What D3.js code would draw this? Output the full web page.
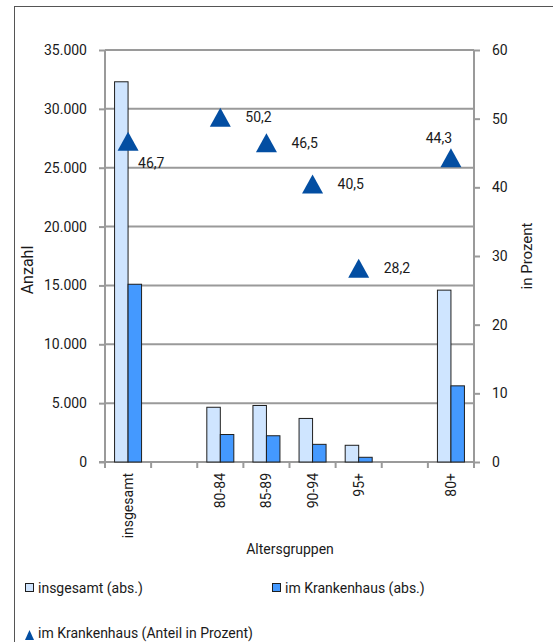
<!DOCTYPE html>
<html>
<head>
<meta charset="utf-8">
<script src="https://cdn.jsdelivr.net/npm/d3@7"></script>
<style>
  html, body { margin: 0; padding: 0; background: #fff; }
  svg { display: block; font-family: Roboto, "Open Sans", sans-serif; }
  text { fill: #1a1a1a; }
</style>
</head>
<body>
<svg id="chart" width="553" height="642"></svg>
<script>
// Age groups (empty slots keep gaps between the group blocks)
const categories = ["insgesamt", "gap1", "80-84", "85-89", "90-94", "95+", "gap2", "80+"];
const categoryLabels = ["insgesamt", "", "80-84", "85-89", "90-94", "95+", "", "80+"];

// Absolute counts
const totalAbs =    [32300, null, 4650, 4800, 3700, 1420, null, 14600];
const hospitalAbs = [15100, null, 2335, 2230, 1500, 400, null, 6470];

// Share in hospital, percent
const hospitalPct = [46.7, null, 50.2, 46.5, 40.5, 28.2, null, 44.3];

const leftTicks = [0, 5000, 10000, 15000, 20000, 25000, 30000, 35000];
const rightTicks = [0, 10, 20, 30, 40, 50, 60];

const svg = d3.select("#chart");
const plot = { left: 105, right: 474, top: 50, bottom: 462 };

const de = d3.formatLocale({ decimal: ",", thousands: ".", grouping: [3], currency: ["", " €"] });
const fmtThousands = de.format(",d");
const fmtPct = de.format(".1f");

const x = d3.scaleBand().domain(categories).range([plot.left, plot.right]).padding(0);
const yLeft = d3.scaleLinear().domain([0, 35000]).range([plot.bottom, plot.top]);
const yRight = d3.scaleLinear().domain([0, 60]).range([plot.bottom, plot.top]);

const gridColor = "#9a9a9a";

// Outer frame (left and top edges)
svg.append("line").attr("x1", 14.5).attr("x2", 14.5).attr("y1", 6).attr("y2", 642)
  .attr("stroke", "#555").attr("stroke-width", 1);
svg.append("line").attr("x1", 14.5).attr("x2", 553).attr("y1", 6.5).attr("y2", 6.5)
  .attr("stroke", "#555").attr("stroke-width", 1);

// Horizontal gridlines
svg.append("g").selectAll("line").data(leftTicks.slice(1)).join("line")
  .attr("x1", plot.left).attr("x2", plot.right)
  .attr("y1", d => yLeft(d)).attr("y2", d => yLeft(d))
  .attr("stroke", gridColor).attr("stroke-width", 2);

// Left axis
const leftAxis = svg.append("g").attr("transform", `translate(${plot.left},0)`)
  .call(d3.axisLeft(yLeft).tickValues(leftTicks).tickFormat(fmtThousands).tickSize(6).tickPadding(12));
// Right axis
const rightAxis = svg.append("g").attr("transform", `translate(${plot.right},0)`)
  .call(d3.axisRight(yRight).tickValues(rightTicks).tickFormat(d3.format("d")).tickSize(6).tickPadding(12));

[leftAxis, rightAxis].forEach(g => {
  g.select(".domain").attr("stroke", gridColor).attr("stroke-width", 2)
    .attr("d", `M0,${plot.top}V${plot.bottom}`);
  g.selectAll(".tick line").attr("stroke", gridColor).attr("stroke-width", 2);
  g.selectAll(".tick text").attr("font-size", 14).attr("font-family", "Roboto, sans-serif").attr("fill", "#1a1a1a");
});

// Bottom axis with ticks at the band boundaries
const boundaries = categories.map(c => x(c)).concat([plot.right]);
svg.append("line").attr("x1", plot.left - 6).attr("x2", plot.right)
  .attr("y1", plot.bottom).attr("y2", plot.bottom)
  .attr("stroke", gridColor).attr("stroke-width", 2);
svg.append("g").selectAll("line").data(boundaries).join("line")
  .attr("x1", d => d).attr("x2", d => d)
  .attr("y1", plot.bottom).attr("y2", plot.bottom + 6)
  .attr("stroke", gridColor).attr("stroke-width", 2);

svg.append("g").selectAll("text").data(categories).join("text")
  .attr("transform", d => `translate(${x(d) + x.bandwidth() / 2 + 5},${plot.bottom + 11}) rotate(-90)`)
  .attr("text-anchor", "end")
  .attr("font-size", 14)
  .text((d, i) => categoryLabels[i]);

// Bars
const barW = 13.5;
const barData = categories.map((c, i) => ({ c, total: totalAbs[i], hosp: hospitalAbs[i] }))
  .filter(d => d.total != null);

const bars = svg.append("g");
bars.selectAll("rect.total").data(barData).join("rect")
  .attr("class", "total")
  .attr("x", d => x(d.c) + x.bandwidth() / 2 - barW)
  .attr("width", barW)
  .attr("y", d => yLeft(d.total))
  .attr("height", d => yLeft(0) - yLeft(d.total))
  .attr("fill", "#cfe5ff").attr("stroke", "#1f1f1f").attr("stroke-width", 1);
bars.selectAll("rect.hosp").data(barData).join("rect")
  .attr("class", "hosp")
  .attr("x", d => x(d.c) + x.bandwidth() / 2)
  .attr("width", barW)
  .attr("y", d => yLeft(d.hosp))
  .attr("height", d => yLeft(0) - yLeft(d.hosp))
  .attr("fill", "#4499ff").attr("stroke", "#1f1f1f").attr("stroke-width", 1);

// Percent markers
const triPath = (w, h) => `M0,${-h / 2}L${w / 2},${h / 2}L${-w / 2},${h / 2}Z`;
const markerColor = "#034ea2";
const pctData = categories.map((c, i) => ({ c, v: hospitalPct[i] })).filter(d => d.v != null);

// Label placement relative to each marker
const labelPlacement = {
  "insgesamt": { dx: 10, dy: 22, anchor: "start" },
  "80+": { dx: -12, dy: -20, anchor: "middle" }
};
const defaultPlacement = { dx: 25, dy: 0, anchor: "start" };

const marks = svg.append("g");
marks.selectAll("path").data(pctData).join("path")
  .attr("transform", d => `translate(${x(d.c) + x.bandwidth() / 2},${yRight(d.v)})`)
  .attr("d", triPath(21, 19))
  .attr("fill", markerColor);

marks.selectAll("text").data(pctData).join("text")
  .attr("x", d => x(d.c) + x.bandwidth() / 2 + (labelPlacement[d.c] || defaultPlacement).dx)
  .attr("y", d => yRight(d.v) + (labelPlacement[d.c] || defaultPlacement).dy)
  .attr("dy", "0.35em")
  .attr("text-anchor", d => (labelPlacement[d.c] || defaultPlacement).anchor)
  .attr("font-size", 14)
  .text(d => fmtPct(d.v));

// Axis titles
svg.append("text")
  .attr("transform", "translate(33,270) rotate(-90)")
  .attr("text-anchor", "middle").attr("font-size", 16).text("Anzahl");
svg.append("text")
  .attr("transform", "translate(532,256) rotate(-90)")
  .attr("text-anchor", "middle").attr("font-size", 15).text("in Prozent");
svg.append("text")
  .attr("x", 290).attr("y", 549).attr("dy", "0.35em")
  .attr("text-anchor", "middle").attr("font-size", 14).text("Altersgruppen");

// Legend
const legend = svg.append("g");
const legendItems = [
  { label: "insgesamt (abs.)", fill: "#cfe5ff", x: 25, y: 588 },
  { label: "im Krankenhaus (abs.)", fill: "#4499ff", x: 272, y: 588 }
];
legendItems.forEach(it => {
  legend.append("rect").attr("x", it.x + 0.5).attr("y", it.y - 4.5).attr("width", 8).attr("height", 8)
    .attr("fill", it.fill).attr("stroke", "#1f1f1f").attr("stroke-width", 1);
  legend.append("text").attr("x", it.x + 13).attr("y", it.y).attr("dy", "0.35em")
    .attr("font-size", 14).text(it.label);
});
legend.append("path").attr("transform", "translate(29.5,635)").attr("d", triPath(9, 10)).attr("fill", markerColor);
legend.append("text").attr("x", 38).attr("y", 633).attr("dy", "0.35em")
  .attr("font-size", 14).text("im Krankenhaus (Anteil in Prozent)");
</script>
</body>
</html>
